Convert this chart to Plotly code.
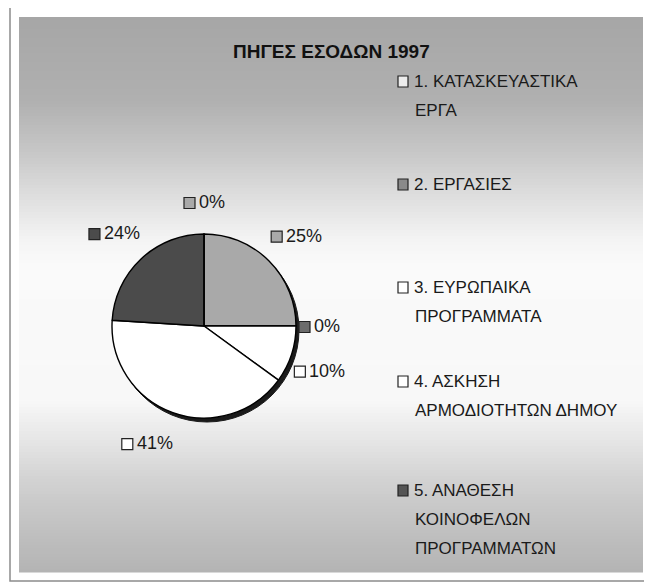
import math
import plotly.graph_objects as go

# ---------------- data ----------------
title_text = "ΠΗΓΕΣ ΕΣΟΔΩΝ 1997"
slice_ids = ["s1", "s2", "s3", "s4", "s5", "s6"]
slice_values = [25, 0, 10, 41, 24, 0]
slice_colors = ["#a9a9a9", "#6c6c6c", "#ffffff", "#ffffff", "#4b4b4b", "#a9a9a9"]
legend_lines = [
    ["1. ΚΑΤΑΣΚΕΥΑΣΤΙΚΑ", "ΕΡΓΑ"],
    ["2. ΕΡΓΑΣΙΕΣ"],
    ["3. ΕΥΡΩΠΑΙΚΑ", "ΠΡΟΓΡΑΜΜΑΤΑ"],
    ["4. ΑΣΚΗΣΗ", "ΑΡΜΟΔΙΟΤΗΤΩΝ ΔΗΜΟΥ"],
    ["5. ΑΝΑΘΕΣΗ", "ΚΟΙΝΟΦΕΛΩΝ", "ΠΡΟΓΡΑΜΜΑΤΩΝ"],
]
legend_colors = ["#ececec", "#8a8a8a", "#ffffff", "#ffffff", "#555555"]

# ---------------- layout helpers ----------------
W, H = 652, 584
OFF = 8  # page body margin
FONT = "Liberation Sans, Arial, sans-serif"


def X(px):
    return (px - OFF) / W


def Y(py):
    return 1 - (py - OFF) / H


shapes = []
annotations = []

# outer frame
shapes.append(dict(type="rect", xref="paper", yref="paper",
                   x0=X(10), x1=X(647), y0=Y(581), y1=Y(7),
                   line=dict(color="#8c8c8c", width=1.5), fillcolor="#ffffff", layer="below"))

# gray panel with vertical gradient (gray at top/bottom, white in the middle)
px0, px1, py0, py1 = 19, 643, 17, 572
grad_y = [17, 100, 150, 200, 240, 265, 400, 440, 480, 530, 572]
grad_v = [166, 176, 198, 224, 244, 250, 248, 230, 210, 192, 180]
step = 3
y = py0
while y < py1:
    ym = y + step / 2
    for j in range(len(grad_y) - 1):
        if grad_y[j] <= ym <= grad_y[j + 1]:
            t = (ym - grad_y[j]) / (grad_y[j + 1] - grad_y[j])
            g = int(round(grad_v[j] + (grad_v[j + 1] - grad_v[j]) * t))
            break
    y2 = min(y + step, py1)
    shapes.append(dict(type="rect", xref="paper", yref="paper",
                       x0=X(px0), x1=X(px1), y0=Y(y2 + 0.5), y1=Y(y),
                       line=dict(width=0), fillcolor=f"rgb({g},{g},{g})", layer="below"))
    y = y2

# pie geometry
cx, cy, R = 204, 326, 92
dom = dict(x=[X(cx - R), X(cx + R)], y=[Y(cy + R), Y(cy - R)])
sdx, sdy = 3, 4
dom_sh = dict(x=[X(cx - R + sdx), X(cx + R + sdx)], y=[Y(cy + R + sdy), Y(cy - R + sdy)])

fig = go.Figure()
fig.add_trace(go.Pie(values=[1], labels=["shadow"], sort=False, domain=dom_sh,
                     marker=dict(colors=["#1a1a1a"], line=dict(color="#1a1a1a", width=1)),
                     textinfo="none", hoverinfo="skip", showlegend=False))
fig.add_trace(go.Pie(values=slice_values, labels=slice_ids, sort=False, direction="clockwise",
                     rotation=0, domain=dom,
                     marker=dict(colors=slice_colors, line=dict(color="#000000", width=1.4)),
                     textinfo="none", hoverinfo="skip", showlegend=False))

# data labels (position derived from slice mid-angles)
total = sum(slice_values)
LBL = 18
rx, ry, d = 83, 103, 12
msz = 10
gap = 4


def text_w(s, size):
    w = 0
    for ch in s:
        w += 0.889 if ch == "%" else 0.556
    return w * size


cum = 0
for v, col in zip(slice_values, slice_colors):
    a0 = cum / total * 2 * math.pi
    cum += v
    a1 = cum / total * 2 * math.pi
    am = (a0 + a1) / 2
    s, c = math.sin(am), math.cos(am)
    px = cx + (rx + d) * s
    py = cy - (ry + d) * c
    label = f"{v}%"
    tw = text_w(label, LBL)
    bw = msz + gap + tw
    bh = 18
    if abs(s) < 0.05:
        left = px - bw / 2
    elif s > 0:
        left = px
    else:
        left = px - bw
    if c > 0.05:
        my = py - bh / 2
    elif c < -0.05:
        my = py + bh / 2
    else:
        my = py
    shapes.append(dict(type="rect", xref="paper", yref="paper",
                       x0=X(left), x1=X(left + msz + 1), y0=Y(my + msz / 2 + 1.5), y1=Y(my - msz / 2 + 0.5),
                       line=dict(color="#222222", width=1.2), fillcolor=col))
    annotations.append(dict(xref="paper", yref="paper", x=X(left + msz + gap - 1), y=Y(my),
                            text=label, showarrow=False, xanchor="left", yanchor="middle",
                            font=dict(family=FONT, size=LBL, color="#1a1a1a")))

# title
annotations.append(dict(xref="paper", yref="paper", x=X(331), y=Y(52), text=title_text,
                        showarrow=False, xanchor="center", yanchor="middle",
                        font=dict(family=FONT, size=19, color="#111111", weight="bold")))

# legend
leg_first_y = [81, 184, 287, 381, 490]
line_gap = 29
for lines, col, y0 in zip(legend_lines, legend_colors, leg_first_y):
    shapes.append(dict(type="rect", xref="paper", yref="paper",
                       x0=X(398), x1=X(408), y0=Y(y0 + 6), y1=Y(y0 - 5),
                       line=dict(color="#222222", width=1.2), fillcolor=col))
    for k, ln in enumerate(lines):
        annotations.append(dict(xref="paper", yref="paper",
                                x=X(412 if k == 0 else 413), y=Y(y0 + k * line_gap),
                                text=ln, showarrow=False, xanchor="left", yanchor="middle",
                                font=dict(family=FONT, size=17, color="#1a1a1a")))

fig.update_layout(width=W, height=H, margin=dict(l=0, r=0, t=0, b=0),
                  paper_bgcolor="#ffffff", plot_bgcolor="#ffffff",
                  shapes=shapes, annotations=annotations, showlegend=False)

fig.write_html("out.html")
